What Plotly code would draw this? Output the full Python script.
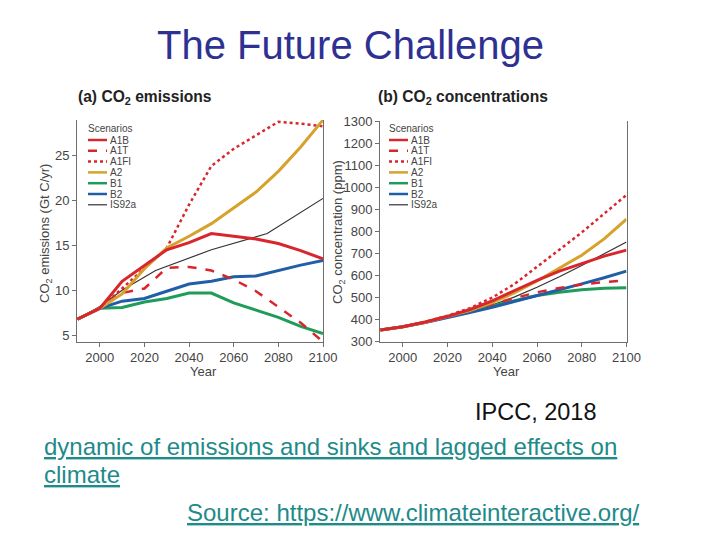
import plotly.graph_objects as go

# ---------------- data ----------------
years = [1990, 2000, 2010, 2020, 2030, 2040, 2050, 2060, 2070, 2080, 2090, 2100]
is92a_em_years = [1990, 2000, 2010, 2025, 2050, 2075, 2100]

scenarios = ["A1B", "A1T", "A1FI", "A2", "B1", "B2", "IS92a"]

# CO2 emissions (Gt C/yr)
em_A1B = [6.8, 8.0, 11.0, 12.8, 14.5, 15.3, 16.3, 16.0, 15.7, 15.2, 14.4, 13.5]
em_A1T = [6.8, 8.0, 9.7, 10.2, 12.5, 12.6, 12.2, 11.2, 9.9, 8.2, 6.4, 4.3]
em_A1FI = [6.8, 8.0, 10.2, 12.4, 14.7, 19.5, 23.8, 25.7, 27.2, 28.7, 28.5, 28.2]
em_A2 = [6.8, 8.0, 9.6, 12.4, 14.7, 16.0, 17.4, 19.1, 20.9, 23.2, 25.9, 28.9]
em_B1 = [6.8, 8.0, 8.1, 8.7, 9.1, 9.7, 9.7, 8.6, 7.8, 7.0, 6.0, 5.2]
em_B2 = [6.8, 8.0, 8.8, 9.1, 9.9, 10.7, 11.0, 11.5, 11.6, 12.2, 12.8, 13.3]
em_IS92a = [6.8, 8.2, 10.0, 12.2, 14.5, 16.3, 20.2]

# CO2 concentrations (ppm)
conc_A1B = [353, 368, 389, 415, 446, 485, 532, 578, 620, 655, 688, 715]
conc_A1T = [353, 368, 389, 414, 441, 471, 499, 524, 543, 559, 570, 578]
conc_A1FI = [353, 368, 390, 418, 452, 500, 562, 638, 717, 795, 880, 965]
conc_A2 = [353, 368, 388, 413, 441, 477, 522, 575, 634, 692, 766, 855]
conc_B1 = [353, 368, 388, 411, 436, 462, 487, 509, 524, 535, 542, 545]
conc_B2 = [353, 368, 387, 408, 432, 456, 482, 508, 535, 562, 590, 620]
conc_IS92a = [353, 368, 387, 411, 437, 466, 503, 547, 594, 645, 697, 752]

em_ticks = [5, 10, 15, 20, 25]
conc_ticks = [300, 400, 500, 600, 700, 800, 900, 1000, 1100, 1200, 1300]
year_ticks = [2000, 2020, 2040, 2060, 2080, 2100]

# ---------------- styles ----------------
RED = "#d9262c"
style = {
    "A1B": dict(color=RED, width=3, dash="solid"),
    "A1T": dict(color=RED, width=2.5, dash="dash"),
    "A1FI": dict(color=RED, width=2.5, dash="dot"),
    "A2": dict(color="#d6a22c", width=3, dash="solid"),
    "B1": dict(color="#1f9c5a", width=3, dash="solid"),
    "B2": dict(color="#205ea8", width=3, dash="solid"),
    "IS92a": dict(color="#333333", width=1.2, dash="solid"),
}

emissions = {
    "A1B": (years, em_A1B), "A1T": (years, em_A1T), "A1FI": (years, em_A1FI),
    "A2": (years, em_A2), "B1": (years, em_B1), "B2": (years, em_B2),
    "IS92a": (is92a_em_years, em_IS92a),
}
concentrations = {
    "A1B": (years, conc_A1B), "A1T": (years, conc_A1T), "A1FI": (years, conc_A1FI),
    "A2": (years, conc_A2), "B1": (years, conc_B1), "B2": (years, conc_B2),
    "IS92a": (years, conc_IS92a),
}

draw_order = ["IS92a", "B1", "B2", "A1T", "A1FI", "A2", "A1B"]

fig = go.Figure()
for name in draw_order:
    x, y = emissions[name]
    fig.add_trace(go.Scatter(x=x, y=y, mode="lines", name=name, line=style[name],
                             xaxis="x", yaxis="y", showlegend=False))
for name in draw_order:
    x, y = concentrations[name]
    fig.add_trace(go.Scatter(x=x, y=y, mode="lines", name=name, line=style[name],
                             xaxis="x2", yaxis="y2", showlegend=False))

# page body has an 8px margin; size the figure so the page is exactly 720x540
OFF = 8
W, H = 704, 522


def px(xs):
    return (xs - OFF) / W


def py(ys):
    return 1 - (ys - OFF) / H


FONT = "Liberation Sans, Arial, sans-serif"
TICKC = "#444444"
AXC = "#6f6f6f"

xa = dict(range=[1989.8, 2100], tickvals=year_ticks, ticks="outside", ticklen=4,
          tickcolor=AXC, showline=True, linecolor=AXC, linewidth=1, showgrid=False,
          zeroline=False, automargin=False,
          tickfont=dict(size=13, color=TICKC, family=FONT))
ya = dict(ticks="outside", ticklen=4, tickcolor=AXC, showline=True, linecolor=AXC,
          linewidth=1, mirror=True, showgrid=False, zeroline=False, automargin=False,
          tickfont=dict(size=13, color=TICKC, family=FONT))

fig.update_layout(
    width=W, height=H, margin=dict(l=0, r=0, t=0, b=0, pad=0, autoexpand=False),
    paper_bgcolor="white", plot_bgcolor="white",
    font=dict(family=FONT),
    xaxis=dict(xa, domain=[px(77), px(323)], anchor="y"),
    yaxis=dict(ya, domain=[py(341.7), py(120)], anchor="x", range=[4.3, 28.9],
               tickvals=em_ticks),
    xaxis2=dict(xa, domain=[px(380), px(626.5)], anchor="y2"),
    yaxis2=dict(ya, domain=[py(341.7), py(121)], anchor="x2", range=[300, 1300],
                tickvals=conc_ticks),
    showlegend=False,
)

ann = []
shapes = []


def text(x, y, t, size, color, xanchor="left", angle=0, **kw):
    ann.append(dict(x=px(x), y=py(y), xref="paper", yref="paper", showarrow=False,
                    text=t, xanchor=xanchor, yanchor="middle", textangle=angle,
                    font=dict(size=size, color=color, family=FONT), **kw))


# main title
text(350, 45, "The Future Challenge", 40, "#2E3192", xanchor="center")

# panel titles
text(76, 97, "<b>(a) CO<sub>2</sub> emissions</b>", 15.6, "#222222")
text(376, 97, "<b>(b) CO<sub>2</sub> concentrations</b>", 15.6, "#222222")

# axis titles
text(203, 371, "Year", 13, TICKC, xanchor="center")
text(506, 371, "Year", 13, TICKC, xanchor="center")
text(45, 234, "CO<sub>2</sub> emissions (Gt C/yr)", 13, TICKC, xanchor="center", angle=-90)
text(338, 232, "CO<sub>2</sub> concentration (ppm)", 13, TICKC, xanchor="center", angle=-90)

# legends (one per panel)
for lx in (88, 389):
    text(lx - 2, 129, "Scenarios", 10, "#444444")
    for i, name in enumerate(scenarios):
        yy = 140 + i * 10.8
        st = style[name]
        shapes.append(dict(type="line", xref="paper", yref="paper",
                           x0=px(lx), x1=px(lx + 19), y0=py(yy), y1=py(yy),
                           line=dict(color=st["color"],
                                     width=1.2 if name == "IS92a" else 2.5,
                                     dash=st["dash"])))
        text(lx + 20, yy, name, 10, "#444444")

# bottom text
TEAL = "#1E8A8A"
text(598, 412, "IPCC, 2018", 23.5, "#111111", xanchor="right")
text(42, 446, "<u>dynamic of emissions and sinks and lagged effects on</u>", 24, TEAL)
text(42, 474, "<u>climate</u>", 24, TEAL)
text(185, 512, "<u>Source: https://www.climateinteractive.org/</u>", 24, TEAL)

fig.update_layout(annotations=ann, shapes=shapes)
fig.write_html("out.html")
